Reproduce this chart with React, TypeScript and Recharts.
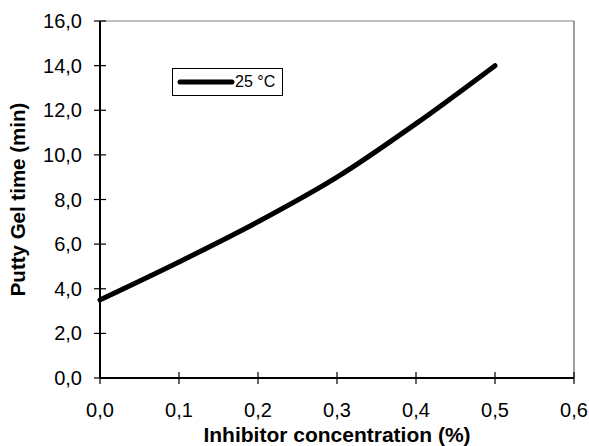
import React from "react";
import {
    LineChart,
    Line,
    XAxis,
    YAxis,
    ReferenceLine,
} from "recharts";

// concentration (%) vs putty gel time (min) at 25 °C
const concentration = [0.0, 0.1, 0.2, 0.3, 0.4, 0.5];
const gelTime = [3.5, 5.2, 7.0, 9.0, 11.4, 14.0];
const xTicks = [0, 0.1, 0.2, 0.3, 0.4, 0.5, 0.6];
const yTicks = [0, 2, 4, 6, 8, 10, 12, 14, 16];
const seriesName = "25 °C";

const data = concentration.map((c, i) => ({ c, t: gelTime[i] }));

const FONT = "'Liberation Sans', Arial, sans-serif";
const TICK = 6;

const fmt = (v: number, d: number) => v.toFixed(d).replace(".", ",");

// tickSize/tickMargin are 0, so x/y here sit right on the axis line;
// ticks cross the axis, as in the original
const YTick = (props: any) => {
    const { x, y, payload } = props;
    return (
        <g>
            <line x1={x - TICK} x2={x + TICK} y1={y} y2={y} stroke="#000" strokeWidth={1.2} />
            <text x={x - 18} y={y} dy={7} textAnchor="end" fill="#000" style={{ fontSize: 20, fontFamily: FONT }}>
                {fmt(payload.value, 1)}
            </text>
        </g>
    );
};

const XTick = (props: any) => {
    const { x, y, payload } = props;
    return (
        <g>
            <line x1={x} x2={x} y1={y - TICK} y2={y + TICK} stroke="#000" strokeWidth={1.2} />
            <text x={x} y={y + 39} textAnchor="middle" fill="#000" style={{ fontSize: 20, fontFamily: FONT }}>
                {fmt(payload.value, 1)}
            </text>
        </g>
    );
};

const LegendBox = () => (
    <div style={{
        position: "absolute",
        left: 172,
        top: 68,
        border: "1px solid #000",
        background: "#fff",
        width: 111,
        height: 28,
        display: "flex",
        alignItems: "center",
        boxSizing: "border-box",
        fontFamily: FONT,
        fontSize: 16,
    }}>
        <svg width={58} height={10} style={{ marginLeft: 4 }}>
            <line x1={3} x2={55} y1={5} y2={5} stroke="#000" strokeWidth={5} strokeLinecap="round" />
        </svg>
        <span>{seriesName}</span>
    </div>
);

export default function App() {
    return (
        <div style={{ position: "absolute", left: 0, top: 0, width: 589, height: 446, background: "#fff" }}>
            <LineChart
                width={589}
                height={446}
                data={data}
                margin={{ top: 21, right: 15, left: 0, bottom: 0 }}
            >
                <XAxis
                    dataKey="c"
                    type="number"
                    domain={[0, 0.6]}
                    ticks={xTicks}
                    tickSize={0}
                    tickMargin={0}
                    tickLine={false}
                    tick={<XTick />}
                    axisLine={{ stroke: "#000", strokeWidth: 2 }}
                    height={68}
                    label={{
                        value: "Inhibitor concentration (%)",
                        position: "insideBottom",
                        offset: 4,
                        style: { fill: "#000", fontWeight: "bold", fontSize: 21, fontFamily: FONT },
                    }}
                />
                <YAxis
                    type="number"
                    domain={[0, 16]}
                    ticks={yTicks}
                    tickSize={0}
                    tickMargin={0}
                    tickLine={false}
                    tick={<YTick />}
                    axisLine={{ stroke: "#000", strokeWidth: 2 }}
                    width={100}
                    label={{
                        value: "Putty Gel time (min)",
                        angle: -90,
                        position: "insideLeft",
                        offset: 18,
                        style: { textAnchor: "middle", fill: "#000", fontWeight: "bold", fontSize: 20.5, fontFamily: FONT },
                    }}
                />
                <ReferenceLine y={16} stroke="#808080" strokeWidth={1} />
                <ReferenceLine x={0.6} stroke="#404040" strokeWidth={1} />
                <Line
                    type="monotone"
                    dataKey="t"
                    name={seriesName}
                    stroke="#000"
                    strokeWidth={5}
                    strokeLinecap="round"
                    dot={false}
                    isAnimationActive={false}
                />
            </LineChart>
            <LegendBox />
        </div>
    );
}
